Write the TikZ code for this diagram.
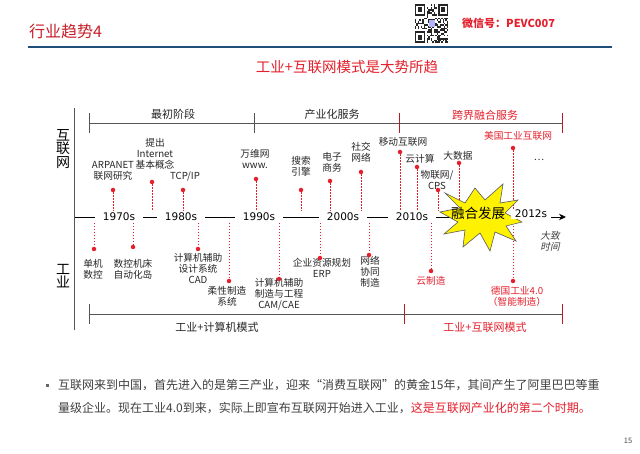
\documentclass[tikz,border=0pt]{standalone}
\usepackage{fontspec}
\setmainfont{Noto Sans CJK SC}
\newfontfamily\yearfont{DejaVu Sans}
\newfontfamily\slcjk[FakeSlant=0.2]{Noto Sans CJK SC}
\usetikzlibrary{arrows.meta}
\definecolor{tred}{RGB}{228,32,45}
\definecolor{hred}{RGB}{200,30,40}
\definecolor{hblue}{RGB}{31,78,121}
\definecolor{axgray}{RGB}{85,85,85}
\begin{document}
\begin{tikzpicture}[x=1pt,y=-1pt,
  lbl/.style={font=\fontsize{9.7}{11}\selectfont, align=center, text=black!85, inner sep=0pt},
  rlbl/.style={lbl, text=tred},
  evdot/.style={circle, fill=tred, inner sep=0pt, minimum size=4.5pt},
  vline/.style={draw=tred, dash pattern=on 1.5pt off 1.5pt, line width=0.6pt},
  yr/.style={font=\yearfont\fontsize{10.5}{12}\selectfont, fill=white, inner xsep=7.5pt, inner ysep=1pt},
  brk/.style={draw=axgray, line width=0.8pt},
  rtick/.style={draw=tred!80!black, line width=0.8pt},
  blbl/.style={font=\fontsize{11}{13}\selectfont, text=black!85, inner sep=0pt},
  body/.style={font=\fontsize{12}{14}\selectfont, text=black!75, inner sep=0pt, anchor=west}
]
\useasboundingbox (0,0) rectangle (640,454);
\fill[white] (0,0) rectangle (640,454);

% ---------- header ----------
\node[font=\fontsize{16}{18}\selectfont, text=hred, anchor=west, inner sep=0pt] (title) at (29,31) {行业趋势4};
\begin{scope}[shift={(415,4)}, x=1.45pt, y=-1.7pt]
  \pgfmathsetseed{3}
  \foreach \i in {0,...,22}{\foreach \j in {0,...,22}{%
    \pgfmathrandominteger{\rr}{0}{1}%
    \ifnum\rr=1 \fill[black!85] (\i,\j) rectangle ++(1,1);\fi}}
  \fill[white] (0,0) rectangle (8,8);
  \fill[white] (15,0) rectangle (23,8);
  \fill[white] (0,15) rectangle (8,23);
  \foreach \a/\b in {0/0,16/0,0/16}{%
    \fill[black!85] (\a,\b) rectangle ++(7,7);
    \fill[white] (\a+1,\b+1) rectangle ++(5,5);
    \fill[black!85] (\a+2,\b+2) rectangle ++(3,3);}
  \fill[blue!30!white] (9.5,9.5) rectangle ++(4,4);
\end{scope}
\node[font=\bfseries\fontsize{11}{13}\selectfont, text=tred, anchor=west, inner sep=0pt] (wx) at (462,23) {微信号：PEVC007};
\draw[hblue, line width=2.5pt] (28,47) -- (612,47);
\node[font=\fontsize{14.5}{16}\selectfont, text=tred, inner sep=0pt] (sub) at (347,67) {工业+互联网模式是大势所趋};

% ---------- axis ----------
\draw[axgray, line width=0.8pt] (74,108) -- (74,330);
\node[font=\fontsize{14}{13.5}\selectfont, align=center, inner sep=0pt] (ax1) at (63,149) {互\\联\\网};
\node[font=\fontsize{14}{13.5}\selectfont, align=center, inner sep=0pt] (ax2) at (63,276) {工\\业};

% ---------- brackets ----------
\draw[brk] (89,123) -- (562,123);
\draw[brk] (89,113) -- (89,133);
\draw[brk] (254,113) -- (254,133);
\draw[rtick] (399,113) -- (399,133);
\draw[rtick] (562,113) -- (562,133);
\node[blbl] (ph1) at (173,114) {最初阶段};
\node[blbl] (ph2) at (332,114) {产业化服务};
\node[blbl, text=tred] (ph3) at (485,115) {跨界融合服务};

\draw[brk] (89,314) -- (562,314);
\draw[brk] (89,304) -- (89,324);
\draw[rtick] (404,304) -- (404,324);
\draw[rtick] (562,304) -- (562,324);
\node[blbl] (m1) at (217,327) {工业+计算机模式};
\node[blbl, text=tred] (m2) at (485,327) {工业+互联网模式};

% ---------- timeline ----------
\coordinate (tl0) at (75,217);
\coordinate (tl1) at (566,217);
\draw[line width=0.9pt, -{Stealth[length=7pt,width=6.5pt]}] (tl0) -- (tl1);

% ---------- internet events ----------
\node[lbl] (tA) at (113,171) {ARPANET\\联网研究};
\node[evdot] (dA) at (113,190) {}; \coordinate (eA) at (113,211);
\node[lbl] (tB) at (155,154) {提出\\Internet\\基本概念};
\node[evdot] (dB) at (152,182) {}; \coordinate (eB) at (152,211);
\node[lbl] (tC) at (185,177) {TCP/IP};
\node[evdot] (dC) at (183,190) {}; \coordinate (eC) at (183,211);
\node[lbl] (tD) at (255,159) {万维网\\www.};
\node[evdot] (dD) at (256,179) {}; \coordinate (eD) at (256,211);
\node[lbl] (tE) at (301,166) {搜索\\引擎};
\node[evdot] (dE) at (301,190) {}; \coordinate (eE) at (301,211);
\node[lbl] (tF) at (332,162) {电子\\商务};
\node[evdot] (dF) at (330,181) {}; \coordinate (eF) at (330,211);
\node[lbl] (tG) at (361,152) {社交\\网络};
\node[evdot] (dG) at (361,172) {}; \coordinate (eG) at (361,211);
\node[lbl] (tH) at (403,142) {移动互联网};
\node[evdot] (dH) at (400,152) {}; \coordinate (eH) at (400,211);
\node[lbl] (tI) at (420,159) {云计算};
\node[evdot] (dI) at (417,167) {}; \coordinate (eI) at (417,211);
\node[lbl] (tJ) at (437,180) {物联网/\\CPS};
\node[evdot] (dJ) at (438,190) {}; \coordinate (eJ) at (438,211);
\node[lbl] (tK) at (458,156) {大数据};
\node[evdot] (dK) at (459,163) {}; \coordinate (eK) at (459,211);
\node[rlbl] (tL) at (518,136) {美国工业互联网};
\node[evdot] (dL) at (513,148) {}; \coordinate (eL) at (513,211);
\node[lbl] (tM) at (539,160) {…};
\foreach \n in {A,B,C,D,E,F,G,H,I,J,K,L}{\draw[vline] (d\n) -- (e\n);}

% ---------- industry events ----------
\node[lbl] (bA) at (93,269) {单机\\数控};
\node[evdot] (qA) at (94,249) {}; \coordinate (sA) at (94,223);
\node[lbl] (bB) at (133,269) {数控机床\\自动化岛};
\node[evdot] (qB) at (133,247) {}; \coordinate (sB) at (133,223);
\node[lbl] (bC) at (198,268) {计算机辅助\\设计系统\\CAD};
\node[evdot] (qC) at (198,249) {}; \coordinate (sC) at (198,223);
\node[lbl] (bD) at (227,296) {柔性制造\\系统};
\node[evdot] (qD) at (229,281) {}; \coordinate (sD) at (229,223);
\node[lbl] (bE) at (279,294) {计算机辅助\\制造与工程\\CAM/CAE};
\node[evdot] (qE) at (279,279) {}; \coordinate (sE) at (279,223);
\node[lbl] (bF) at (322,268) {企业资源规划\\ERP};
\node[evdot] (qF) at (320,258) {}; \coordinate (sF) at (320,223);
\node[lbl] (bG) at (370,272) {网络\\协同\\制造};
\node[evdot] (qG) at (369,255) {}; \coordinate (sG) at (369,223);
\node[rlbl] (bH) at (431,281) {云制造};
\node[evdot] (qH) at (431,271) {}; \coordinate (sH) at (431,223);
\node[rlbl] (bI) at (517,296) {德国工业4.0\\（智能制造）};
\node[evdot] (qI) at (513,281) {}; \coordinate (sI) at (513,223);
\foreach \n in {A,B,C,D,E,F,G,H,I}{\draw[vline] (s\n) -- (q\n);}
\node[lbl, font=\slcjk\fontsize{9.7}{11}\selectfont, text=black!75] (tj) at (550,241) {大致\\时间};

% ---------- year labels ----------
\node[yr] (y70) at (119,217) {1970s};
\node[yr] (y80) at (181,217) {1980s};
\node[yr] (y90) at (259,217) {1990s};
\node[yr] (y00) at (343,217) {2000s};
\node[yr] (y10) at (412,217) {2010s};

% ---------- starburst ----------
\draw[fill=yellow, draw=gray!70!black, line width=0.6pt, line join=miter]
  (445,193) -- (465,203) -- (475,188) -- (485,200) -- (503,184) -- (500,203)
  -- (518,200) -- (505,213) -- (522,222) -- (506,226) -- (516,241) -- (495,232)
  -- (490,251) -- (480,233) -- (463,247) -- (465,230) -- (444,234) -- (458,222)
  -- (440,212) -- (460,208) -- cycle;
\node[yr, inner xsep=4pt] (y12) at (531,214) {2012s};
\node[font=\fontsize{13.5}{15}\selectfont, inner sep=0pt] (rh) at (478,213) {融合发展};

% ---------- body text ----------
\node[fill=black!60, minimum size=3pt, inner sep=0pt] (bul) at (47,385) {};
\node[body] (p1) at (58,385) {互联网来到中国，首先进入的是第三产业，迎来“消费互联网”的黄金15年，其间产生了阿里巴巴等重};
\node[body] (p2) at (58,408) {量级企业。现在工业4.0到来，实际上即宣布互联网开始进入工业，\textcolor{tred}{这是互联网产业化的第二个时期。}};
\node[font=\fontsize{7.5}{9}\selectfont, text=black!70, inner sep=0pt] (pg) at (628,441) {15};
\end{tikzpicture}
\end{document}
